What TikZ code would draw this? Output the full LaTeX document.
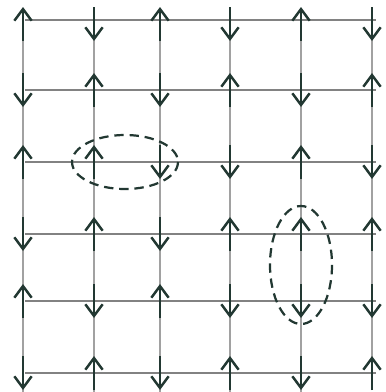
\documentclass[tikz,border=0pt]{standalone}
\usetikzlibrary{arrows.meta}
\definecolor{ink}{RGB}{34,56,50}
\definecolor{gridgray}{RGB}{130,130,130}
\begin{document}
\begin{tikzpicture}[x=0.03cm,y=-0.03cm,
  gridline/.style={draw=gridgray,line width=1.2pt},
  spin/.style={draw=ink,line width=2.5pt,-{Straight Barb[length=3.5mm,width=5.2mm,line width=2.1pt]}},
  loop/.style={draw=ink,line width=1.9pt,dash pattern=on 8pt off 5pt}]
\useasboundingbox (0,0) rectangle (385,392);
\fill[white] (0,0) rectangle (385,392);
% grid
\foreach \y in {20,90,162,234,301,373} \draw[gridline] (25,\y) -- (376,\y);
\foreach \x in {23,94,160,230,301} \draw[gridline,draw=gridgray!75] (\x,12) -- (\x,392);
\draw[gridline,draw=gridgray!75] (372,12) -- (372,378);
% spins: row y, list of directions (1 = up, -1 = down)
\foreach \y/\dirs in {24/{1,-1,1,-1,1,-1},
                      90/{-1,1,-1,1,-1,1},
                      162/{1,1,-1,-1,1,-1},
                      234/{-1,1,-1,1,1,1},
                      301/{1,-1,1,-1,-1,-1},
                      373/{-1,1,-1,1,-1,1}}{
  \foreach \d [count=\i] in \dirs {
    \pgfmathsetmacro{\xx}{{23,94,160,230,301,372}[\i-1]}
    \draw[spin] (\xx,\y+17*\d) -- (\xx,\y-17*\d);
  }
}
% dashed loops
\draw[loop] (125,162) ellipse [x radius=53, y radius=27];
\draw[loop] (301,265) ellipse [x radius=31, y radius=59];
\end{tikzpicture}
\end{document}
